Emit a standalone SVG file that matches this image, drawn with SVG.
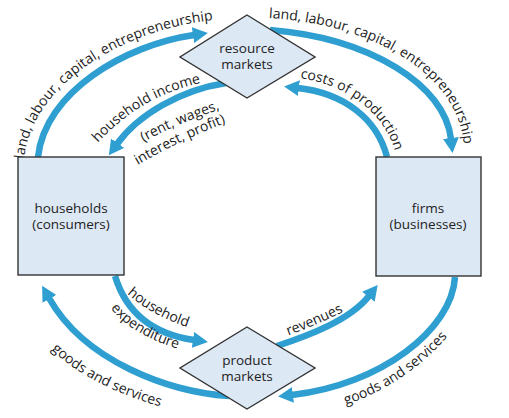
<svg xmlns="http://www.w3.org/2000/svg" xmlns:xlink="http://www.w3.org/1999/xlink" width="509" height="418" viewBox="0 0 509 418">
<style>
.node{fill:#dde8f5;stroke:#333;stroke-width:1.4}
.flow{fill:none;stroke:#2e9fd0;stroke-width:6.5;marker-end:url(#ah)}
.ntxt{font-family:"Open Sans","DejaVu Sans",sans-serif;font-size:13.5px;fill:#222;text-anchor:middle}
.lbl{font-family:"Open Sans","DejaVu Sans",sans-serif;font-size:14px;fill:#222}
</style>
<defs>
<marker id="ah" markerUnits="userSpaceOnUse" viewBox="0 0 15 16" markerWidth="15" markerHeight="16" refX="1" refY="8" orient="auto">
<path d="M0,0 L15,8 L0,16 z" fill="#2e9fd0"/>
</marker>
<path id="t1" d="M24,160 C30,88 118,30 214,20"/>
<path id="t2" d="M268,18 C375,24 458,75 464,145"/>
<path id="t3" d="M95,146 Q140,95 205,82"/>
<path id="t4a" d="M140,144 Q175,124 224,108"/>
<path id="t4b" d="M136,166 Q178,141 228,122"/>
<path id="t5" d="M296,78 C343,82 386,112 396,155"/>
<path id="t6a" d="M125,292 Q150,315 190,328"/>
<path id="t6b" d="M108,305 Q130,335 182,350"/>
<path id="t7" d="M48,346 Q85,385 165,408"/>
<path id="t8" d="M287,336 Q315,326 345,311"/>
<path id="t9" d="M345,405 Q405,385 448,336"/>
</defs>
<rect width="509" height="418" fill="#fff"/>
<g id="connectors">
<path class="flow" d="M38,157 C45,92 125,45 194,35"/>
<path class="flow" d="M270,30 C370,38 445,85 451,139"/>
<path class="flow" d="M226,83 C180,90 138,115 117,144"/>
<path class="flow" d="M387,157 C377,118 343,93 298,88"/>
<path class="flow" d="M115,276 C126,312 152,334 194,340"/>
<path class="flow" d="M229,396 C170,392 85,362 49,298"/>
<path class="flow" d="M277,346 C310,335 350,320 369,296"/>
<path class="flow" d="M455,277 C452,330 380,385 292,395"/>
<text class="lbl" text-anchor="middle"><textPath xlink:href="#t1" href="#t1" startOffset="50%">land, labour, capital, entrepreneurship</textPath></text>
<text class="lbl" text-anchor="middle"><textPath xlink:href="#t2" href="#t2" startOffset="50%">land, labour, capital, entrepreneurship</textPath></text>
<text class="lbl" text-anchor="middle"><textPath xlink:href="#t3" href="#t3" startOffset="50%">household income</textPath></text>
<text class="lbl" text-anchor="middle"><textPath xlink:href="#t4a" href="#t4a" startOffset="50%">(rent, wages,</textPath></text>
<text class="lbl" text-anchor="middle"><textPath xlink:href="#t4b" href="#t4b" startOffset="50%">interest, profit)</textPath></text>
<text class="lbl" text-anchor="middle"><textPath xlink:href="#t5" href="#t5" startOffset="50%">costs of production</textPath></text>
<text class="lbl" text-anchor="middle"><textPath xlink:href="#t6a" href="#t6a" startOffset="50%">household</textPath></text>
<text class="lbl" text-anchor="middle"><textPath xlink:href="#t6b" href="#t6b" startOffset="50%">expenditure</textPath></text>
<text class="lbl" text-anchor="middle"><textPath xlink:href="#t7" href="#t7" startOffset="50%">goods and services</textPath></text>
<text class="lbl" text-anchor="middle"><textPath xlink:href="#t8" href="#t8" startOffset="50%">revenues</textPath></text>
<text class="lbl" text-anchor="middle"><textPath xlink:href="#t9" href="#t9" startOffset="50%">goods and services</textPath></text>
</g>
<g id="resource-markets">
<polygon class="node" points="247,15 315,57 247,98 180,57"/>
<text class="ntxt" x="247" y="53">resource</text>
<text class="ntxt" x="247" y="69">markets</text>
</g>
<g id="product-markets">
<polygon class="node" points="247,327 315,368 247,409 180,368"/>
<text class="ntxt" x="247" y="365">product</text>
<text class="ntxt" x="247" y="381">markets</text>
</g>
<g id="households">
<rect class="node" x="18" y="157" width="106" height="118"/>
<text class="ntxt" x="71" y="213">households</text>
<text class="ntxt" x="71" y="229">(consumers)</text>
</g>
<g id="firms">
<rect class="node" x="376" y="157" width="105" height="119"/>
<text class="ntxt" x="428" y="213">firms</text>
<text class="ntxt" x="428" y="229">(businesses)</text>
</g>
</svg>
